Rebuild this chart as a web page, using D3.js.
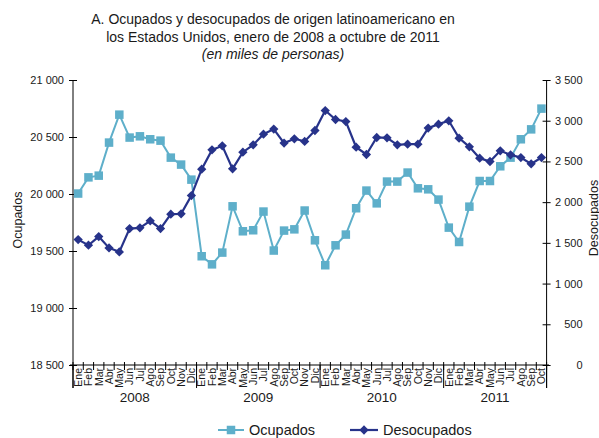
<!DOCTYPE html>
<html><head><meta charset="utf-8">
<script src="https://cdn.jsdelivr.net/npm/d3@7"></script>
<style>
body{margin:0;background:#fff}
svg{display:block}
text{font-family:"Liberation Sans",Arial,sans-serif;fill:#1a1a1a}
</style>
</head><body><svg id="c" width="599" height="438"></svg>
<script>
const titleLines = ["A. Ocupados y desocupados de origen latinoamericano en","los Estados Unidos, enero de 2008 a octubre de 2011","(en miles de personas)"];
const monthLabels = ["Ene","Feb","Mar","Abr","May","Jun","Jul","Ago","Sep","Oct","Nov","Dic"];
const years = ["2008","2009","2010","2011"];
const monthsPerYear = [12,12,12,10];
const ocupados = [20004,20146,20161,20451,20696,20495,20506,20480,20468,20319,20258,20126,
  19454,19383,19486,19892,19673,19682,19846,19504,19679,19690,19855,19594,
  19375,19550,19644,19875,20030,19918,20109,20109,20188,20050,20041,19951,
  19705,19579,19889,20114,20114,20243,20319,20480,20567,20749];
const desocupados = [1540,1471,1577,1438,1389,1675,1684,1770,1675,1852,1856,2081,
  2405,2642,2692,2409,2614,2704,2835,2897,2725,2778,2746,2880,
  3125,3015,2990,2675,2585,2794,2790,2704,2712,2712,2909,2958,
  2999,2786,2679,2540,2499,2630,2581,2548,2470,2548];
const leftTicks = [18500,19000,19500,20000,20500,21000];
const rightTicks = [0,500,1000,1500,2000,2500,3000,3500];
const seriesNames = ["Ocupados","Desocupados"];
const colOcu = "#5eafca", colDes = "#27338a";

const categories = [];
years.forEach((y,k)=>{ for(let m=0;m<monthsPerYear[k];m++) categories.push({year:y, month:monthLabels[m], key:y+"-"+m}); });

const svg = d3.select("#c");
const x = d3.scaleBand().domain(categories.map(d=>d.key)).range([73,546.6]).padding(0);
const yL = d3.scaleLinear().domain([18500,21000]).range([365,80]);
const yR = d3.scaleLinear().domain([0,3500]).range([365,80]);
const fmt = d3.formatLocale({decimal:",",thousands:" ",grouping:[3],currency:["",""]}).format(",");
const cx = i => x(categories[i].key) + x.bandwidth()/2;

// title
svg.append("g").selectAll("text").data(titleLines).join("text")
  .attr("x",273).attr("y",(d,i)=>24+i*17.5).attr("text-anchor","middle")
  .style("font-size","14px").style("font-style",(d,i)=>i===2?"italic":"normal").text(d=>d);

// left axis
const gL = svg.append("g").attr("transform","translate(73,0)");
gL.call(d3.axisLeft(yL).tickValues(leftTicks).tickFormat(fmt).tickSize(4).tickPadding(5));
gL.append("g").call(d3.axisRight(yL).tickValues(leftTicks).tickFormat("").tickSize(4)).select(".domain").remove();
gL.selectAll("text").style("font-size","11px").style("font-family",'"Liberation Sans",Arial,sans-serif').attr("fill","#1a1a1a");
gL.select(".domain").attr("d","M0,80V388");

// right axis
const gR = svg.append("g").attr("transform",`translate(${x.range()[1]},0)`);
gR.call(d3.axisRight(yR).tickValues(rightTicks).tickFormat(fmt).tickSize(4).tickPadding(5));
gR.append("g").call(d3.axisLeft(yR).tickValues(rightTicks).tickFormat("").tickSize(4)).select(".domain").remove();
gR.selectAll("text").style("font-size","11px").style("font-family",'"Liberation Sans",Arial,sans-serif').attr("fill","#1a1a1a")
  .attr("x",36).attr("text-anchor","end");
gR.select(".domain").attr("d","M0,80V388");

// x axis
const gX = svg.append("g");
gX.append("line").attr("x1",70).attr("x2",549).attr("y1",365).attr("y2",365).attr("stroke","#000");
const bounds = d3.range(categories.length+1).map(i=> i<categories.length ? x(categories[i].key) : x.range()[1]);
gX.selectAll("line.tk").data(bounds).join("line").attr("class","tk")
  .attr("x1",d=>d).attr("x2",d=>d).attr("y1",362).attr("y2",370).attr("stroke","#000");
const yearStarts = [0]; monthsPerYear.forEach((n,k)=>yearStarts.push(yearStarts[k]+n));
gX.selectAll("line.ys").data(yearStarts).join("line").attr("class","ys")
  .attr("x1",i=>bounds[i]).attr("x2",i=>bounds[i]).attr("y1",365).attr("y2",388).attr("stroke","#000");
gX.selectAll("text.m").data(categories).join("text").attr("class","m")
  .attr("transform",(d,i)=>`translate(${cx(i)},368) rotate(-90)`)
  .attr("text-anchor","end").attr("dy","0.36em").style("font-size","10.5px").text(d=>d.month);
gX.selectAll("text.y").data(years).join("text").attr("class","y")
  .attr("x",(d,k)=>(bounds[yearStarts[k]]+bounds[yearStarts[k+1]])/2).attr("y",402)
  .attr("text-anchor","middle").style("font-size","13.5px").text(d=>d);

// axis titles
svg.append("text").attr("transform","translate(17,220) rotate(-90)").attr("text-anchor","middle").attr("dy","0.36em")
  .style("font-size","12.5px").text(seriesNames[0]);
svg.append("text").attr("transform","translate(593,218) rotate(-90)").attr("text-anchor","middle").attr("dy","0.36em")
  .style("font-size","12.5px").text(seriesNames[1]);

// series
const lineO = d3.line().x((d,i)=>cx(i)).y(d=>yL(d));
const lineD = d3.line().x((d,i)=>cx(i)).y(d=>yR(d));
const sq = 8.5;
svg.append("path").datum(ocupados).attr("d",lineO).attr("fill","none").attr("stroke",colOcu).attr("stroke-width",2);
svg.append("g").selectAll("rect").data(ocupados).join("rect")
  .attr("x",(d,i)=>cx(i)-sq/2).attr("y",d=>yL(d)-sq/2).attr("width",sq).attr("height",sq).attr("fill",colOcu);
svg.append("path").datum(desocupados).attr("d",lineD).attr("fill","none").attr("stroke",colDes).attr("stroke-width",2.2);
const dia = d3.symbol().type(d3.symbolDiamond2).size(55);
svg.append("g").selectAll("path").data(desocupados).join("path")
  .attr("transform",(d,i)=>`translate(${cx(i)},${yR(d)})`).attr("d",dia).attr("fill",colDes);

// legend
const lg = svg.append("g");
lg.append("line").attr("x1",218).attr("x2",244).attr("y1",430).attr("y2",430).attr("stroke",colOcu).attr("stroke-width",2);
lg.append("rect").attr("x",231-sq/2).attr("y",430-sq/2).attr("width",sq).attr("height",sq).attr("fill",colOcu);
lg.append("text").attr("x",249).attr("y",430).attr("dy","0.36em").style("font-size","14.5px").text(seriesNames[0]);
lg.append("line").attr("x1",350).attr("x2",378).attr("y1",430).attr("y2",430).attr("stroke",colDes).attr("stroke-width",2.2);
lg.append("path").attr("transform","translate(364,430)").attr("d",dia).attr("fill",colDes);
lg.append("text").attr("x",383).attr("y",430).attr("dy","0.36em").style("font-size","14.5px").text(seriesNames[1]);
</script>
</body></html>
